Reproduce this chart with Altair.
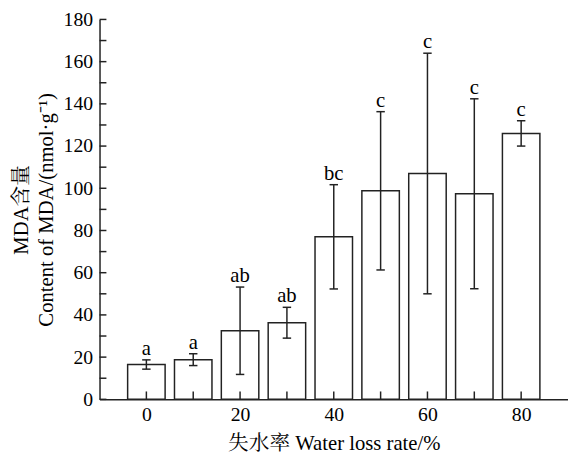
import altair as alt
import pandas as pd

loss = [0, 10, 20, 30, 40, 50, 60, 70, 80]
mda = [16.5, 18.8, 32.5, 36.3, 77.0, 98.8, 107.0, 97.4, 126.0]
err = [2.2, 2.8, 20.7, 7.3, 24.7, 37.5, 57.0, 45.0, 6.0]
letters = ["a", "a", "ab", "ab", "bc", "c", "c", "c", "c"]
y_ticks = list(range(0, 190, 10))
x_ticks = list(range(0, 90, 10))
x_labels = [0, 20, 40, 60, 80]

FONT = "Liberation Serif, Times New Roman, Noto Serif CJK SC, Noto Sans CJK SC"
W, H = 476, 386
INK = "#222222"

df = pd.DataFrame({"x": loss, "y": mda, "e": err, "lab": letters})

xs = alt.Scale(domain=[-10, 90], nice=False, zero=False)
ys = alt.Scale(domain=[0, 180], nice=False)

base = alt.Chart(df).transform_calculate(
    x1="datum.x - 4", x2="datum.x + 4",
    lo="datum.y - datum.e", hi="datum.y + datum.e",
    c1="datum.x - 0.9", c2="datum.x + 0.9",
)

xaxis = alt.Axis(values=x_labels, ticks=False, grid=False, labelPadding=6,
                 title="失水率 Water loss rate/%", titlePadding=8, labelAngle=0)
yaxis = alt.Axis(values=list(range(0, 200, 20)), ticks=False, grid=False, labelPadding=7,
                 title=["MDA含量", "Content of MDA/(nmol·g⁻¹)"], titlePadding=7,
                 titleLineHeight=25)

bars = base.mark_rect(fill="white", stroke=INK, strokeWidth=1.5).encode(
    x=alt.X("x1:Q", scale=xs, axis=xaxis),
    x2="x2:Q",
    y=alt.Y("y:Q", scale=ys, axis=yaxis),
    y2=alt.datum(0),
)

stems = base.mark_rule(color=INK, strokeWidth=1.5).encode(
    x="x:Q", y="lo:Q", y2="hi:Q")
cap_hi = base.mark_rule(color=INK, strokeWidth=1.5).encode(
    x="c1:Q", x2="c2:Q", y="hi:Q")
cap_lo = base.mark_rule(color=INK, strokeWidth=1.5).encode(
    x="c1:Q", x2="c2:Q", y="lo:Q")

text = base.mark_text(font=FONT, fontSize=21, color="black", baseline="alphabetic", dy=-5).encode(
    x="x:Q", y="hi:Q", text="lab:N")

ytk = alt.Chart(pd.DataFrame({"t": y_ticks})).mark_rule(color=INK, strokeWidth=1.5).encode(
    y=alt.Y("t:Q", scale=ys), x=alt.value(0), x2=alt.value(7))
xtk = alt.Chart(pd.DataFrame({"t": x_ticks})).mark_rule(color=INK, strokeWidth=1.5).encode(
    x=alt.X("t:Q", scale=xs), y=alt.value(H), y2=alt.value(H - 8))

chart = alt.layer(bars, stems, cap_hi, cap_lo, text, ytk, xtk).properties(
    width=W, height=H,
    autosize=alt.AutoSizeParams(type="none"),
    padding={"left": 93, "top": 8, "right": 0, "bottom": 57},
).configure_view(stroke=None).configure_axis(
    domainColor=INK, domainWidth=1.5,
    labelFont=FONT, labelFontSize=20, labelColor="black",
    titleFont=FONT, titleFontSize=21, titleColor="black", titleFontWeight="normal",
).configure_axisY(labelFlush=False).configure_axisX(labelFlush=False)

chart.save("out.html", embed_options={"renderer": "svg", "actions": False})
